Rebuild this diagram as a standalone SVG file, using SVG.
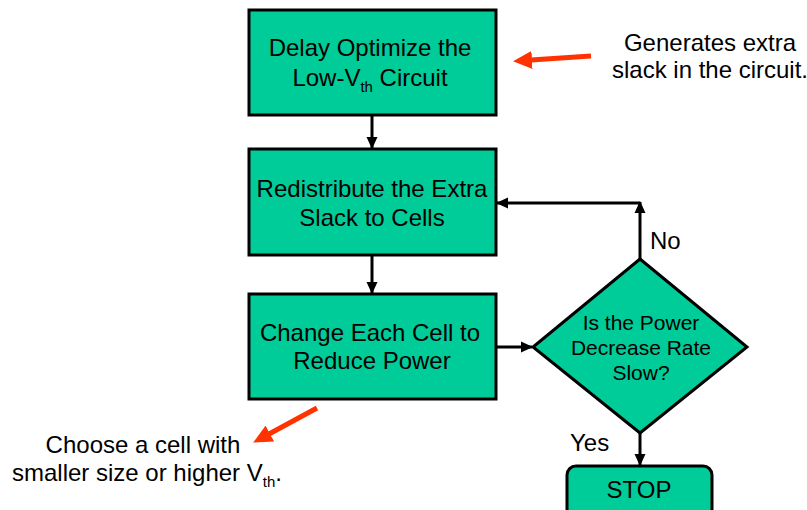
<svg xmlns="http://www.w3.org/2000/svg" width="807" height="510" viewBox="0 0 807 510">
<defs>
<marker id="ah" markerWidth="12" markerHeight="12" refX="11" refY="6" orient="auto" markerUnits="userSpaceOnUse">
<path d="M0,0.5 L12,6 L0,11.5 Z" fill="#000"/>
</marker>
<marker id="rh" markerWidth="19" markerHeight="18" refX="1" refY="9" orient="auto" markerUnits="userSpaceOnUse">
<path d="M19,9 L0,0 L0,18 Z" fill="#FF3300"/>
</marker>
<style>
.box{fill:#00CC99;stroke:#000;stroke-width:3}
.t{font-family:"Liberation Sans",Arial,sans-serif;font-size:24px;fill:#000;text-anchor:middle}
.d{font-family:"Liberation Sans",Arial,sans-serif;font-size:21px;fill:#000;text-anchor:middle}
.s{font-size:15px;fill:#000}
.c{stroke:#000;stroke-width:3;fill:none}
.r{stroke:#FF3300;stroke-width:5;fill:none}
</style>
</defs>
<rect width="807" height="510" fill="#fff"/>
<g id="connectors">
<line class="c" x1="372" y1="115" x2="372" y2="148" marker-end="url(#ah)"/>
<line class="c" x1="372" y1="255" x2="372" y2="293" marker-end="url(#ah)"/>
<line class="c" x1="496" y1="347" x2="532" y2="347" marker-end="url(#ah)"/>
<line class="c" x1="640" y1="259" x2="640" y2="202" marker-end="url(#ah)"/>
<line class="c" x1="640" y1="203" x2="497" y2="203" marker-end="url(#ah)"/>
<line class="c" x1="640" y1="433" x2="640" y2="465" marker-end="url(#ah)"/>
<text class="t" x="650" y="249" style="text-anchor:start">No</text>
<text class="t" x="570" y="451" style="text-anchor:start">Yes</text>
</g>
<g id="n1">
<rect class="box" x="249" y="10" width="247" height="105"/>
<text class="t" x="370" y="56">Delay Optimize the</text>
<text class="t" x="370" y="86">Low-V<tspan class="s" dy="6">th</tspan><tspan dy="-6"> Circuit</tspan></text>
</g>
<g id="n2">
<rect class="box" x="249" y="149" width="247" height="106"/>
<text class="t" x="372" y="197">Redistribute the Extra</text>
<text class="t" x="372" y="226">Slack to Cells</text>
</g>
<g id="n3">
<rect class="box" x="249" y="294" width="247" height="105"/>
<text class="t" x="370" y="341">Change Each Cell to</text>
<text class="t" x="372" y="369">Reduce Power</text>
</g>
<g id="n4">
<polygon class="box" points="640,259 747,347 640,433 533,347"/>
<text class="d" x="641" y="330">Is the Power</text>
<text class="d" x="641" y="355">Decrease Rate</text>
<text class="d" x="641" y="380">Slow?</text>
</g>
<g id="n5">
<rect class="box" x="567" y="466" width="145" height="52" rx="9"/>
<text class="t" x="639" y="498">STOP</text>
</g>
<g id="annotations">
<line class="r" x1="591" y1="56" x2="531" y2="60" marker-end="url(#rh)"/>
<line class="r" x1="317" y1="408" x2="269" y2="434" marker-end="url(#rh)"/>
<text class="t" x="710" y="51">Generates extra</text>
<text class="t" x="710" y="78">slack in the circuit.</text>
<text class="t" x="143" y="453">Choose a cell with</text>
<text class="t" x="12" y="481" style="text-anchor:start">smaller size or higher V<tspan class="s" dy="6">th</tspan><tspan dy="-6">.</tspan></text>
</g>
</svg>
